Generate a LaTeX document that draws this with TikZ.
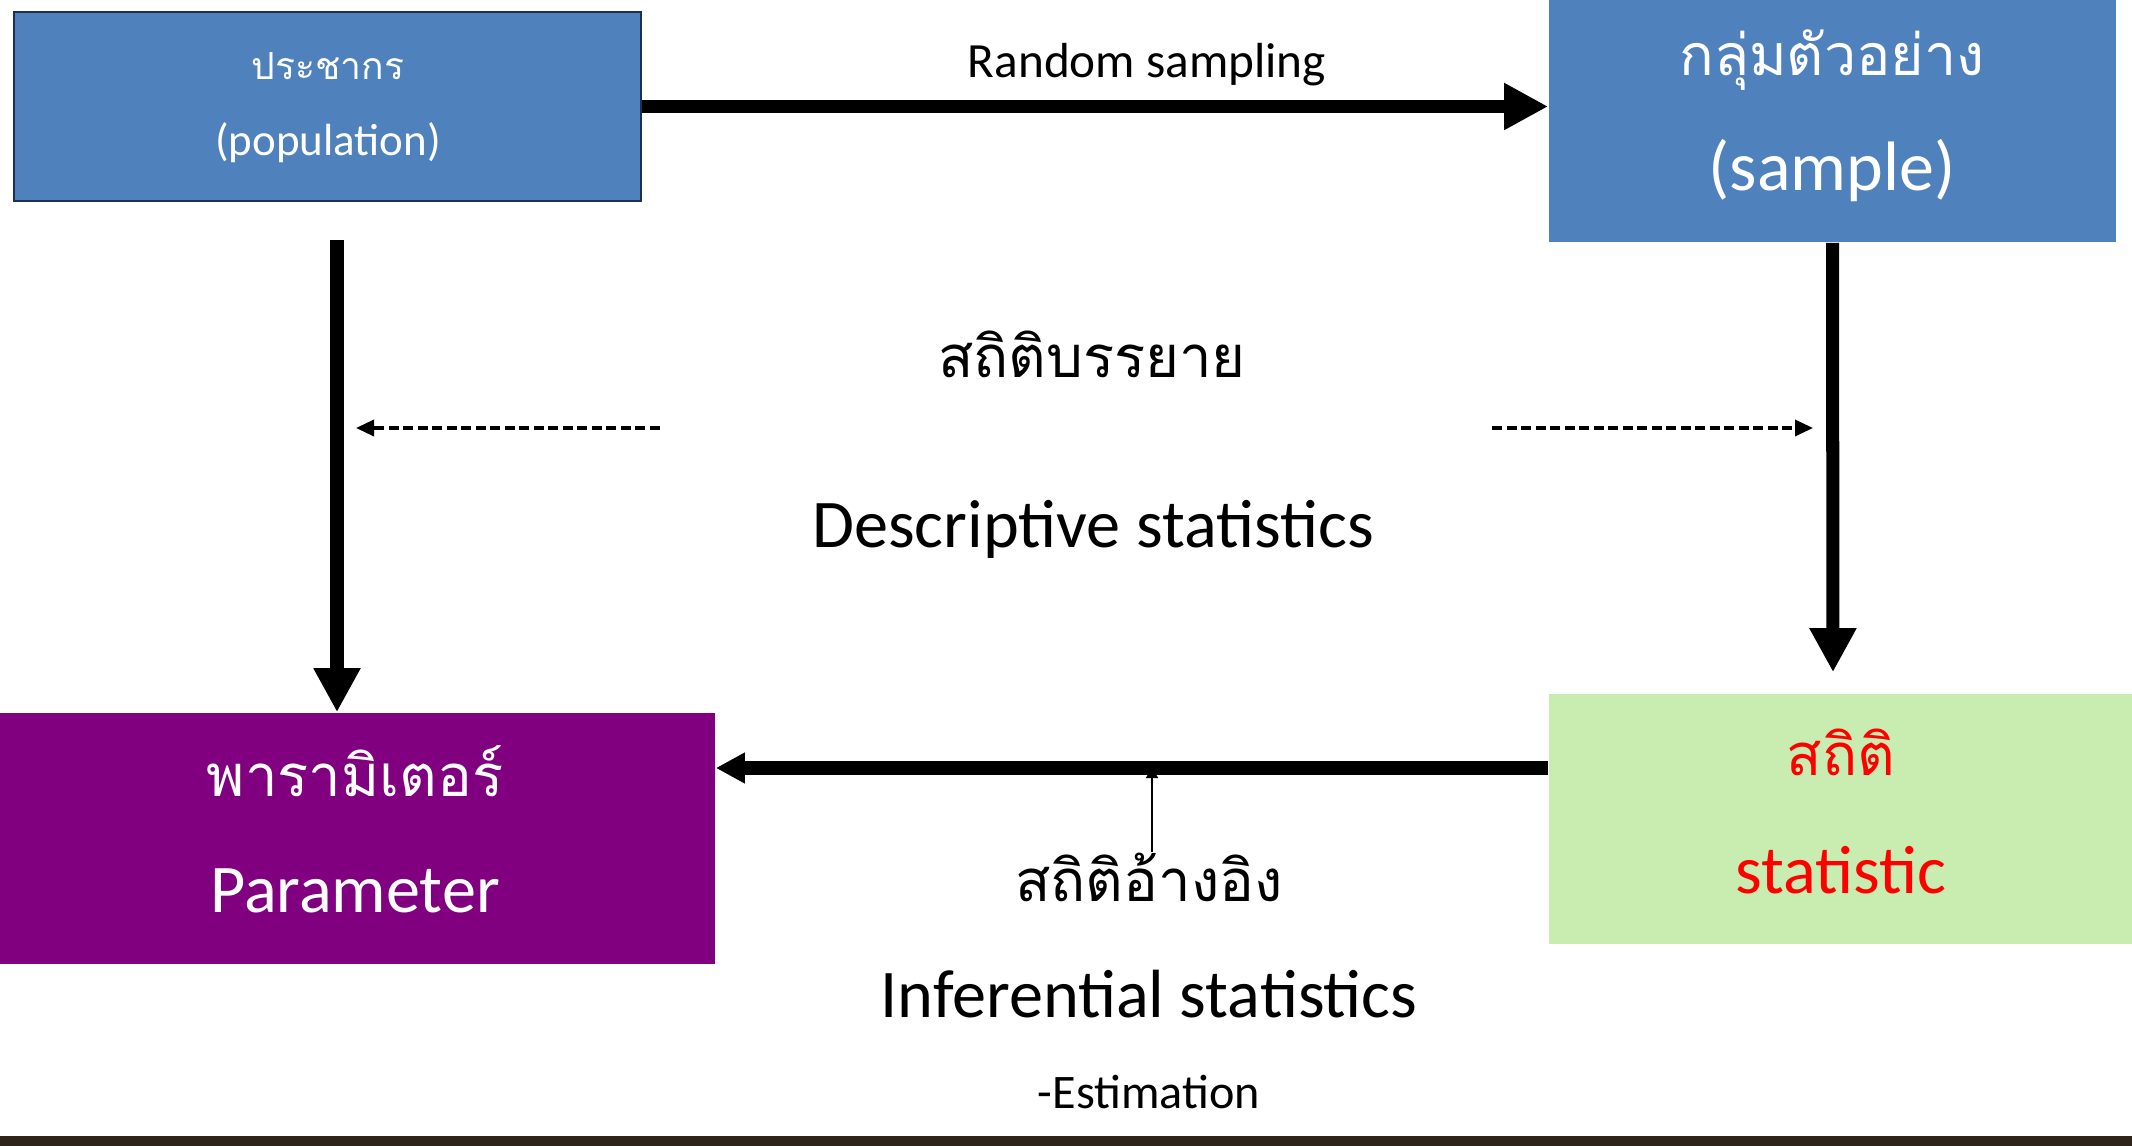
\documentclass[tikz,border=0pt]{standalone}
\usepackage{fontspec}
\setmainfont{Carlito}
\newfontfamily\thaifont[Script=Thai]{Loma}
\usetikzlibrary{arrows.meta,calc,positioning}
\definecolor{popblue}{HTML}{4F81BD}
\definecolor{popedge}{HTML}{1F2F4F}
\definecolor{parpurple}{HTML}{800080}
\definecolor{stagreen}{HTML}{C9EDB0}
\definecolor{barbrown}{HTML}{2E2419}
\tikzset{
  box/.style={rectangle, inner sep=0pt},
  lbl/.style={inner sep=0pt},
  thlbl/.style={inner sep=0pt, font=\thaifont\fontsize{16.5}{20}\selectfont},
  enlbl/.style={inner sep=0pt, font=\fontsize{19.4}{23}\selectfont},
  bigarrow/.style={line width=3.7pt, -{Triangle[length=0.44cm,width=0.44cm]}},
  dasharrow/.style={line width=0.95pt, dash pattern=on 0.1cm off 0.045cm, -{Triangle[length=0.18cm,width=0.16cm]}},
  thinarrow/.style={line width=0.6pt, -{Triangle[length=0.1cm,width=0.12cm]}}
}
\begin{document}
\begin{tikzpicture}[x=0.01cm,y=-0.01cm]
  \useasboundingbox (0,0) rectangle (2132,1146);
  \node[box, fill=popblue, draw=popedge, line width=0.6pt, minimum width=6.27cm, minimum height=1.89cm] (pop) at (327.5,106.5) {};
  \node[box, fill=popblue, minimum width=5.67cm, minimum height=2.42cm] (sam) at (1832.5,121) {};
  \node[box, fill=parpurple, minimum width=7.15cm, minimum height=2.51cm] (par) at (357.5,838.5) {};
  \node[box, fill=stagreen, minimum width=5.83cm, minimum height=2.5cm] (sta) at (1840.5,819) {};
  \node[lbl, text=white, font=\thaifont\fontsize{10.6}{13}\selectfont] (popth) at (328,66) {ประชากร};
  \node[lbl, text=white, font=\fontsize{12.8}{15}\selectfont] (popen) at (328,143) {(population)};
  \node[lbl, text=white, font=\thaifont\fontsize{16.3}{20}\selectfont] (samth) at (1832,60) {กลุ่มตัวอย่าง};
  \node[lbl, text=white, font=\fontsize{19.9}{24}\selectfont] (samen) at (1832,171) {(sample)};
  \node[thlbl, text=white] (parth) at (355,771) {พารามิเตอร์};
  \node[enlbl, text=white] (paren) at (355,891) {Parameter};
  \node[thlbl, text=red] (stath) at (1841,752) {สถิติ};
  \node[enlbl, text=red] (staen) at (1841,870) {statistic};
  \node[lbl, font=\fontsize{14}{17}\selectfont] (rs) at (1147,65) {Random sampling};
  \node[thlbl] (desth) at (1092,354) {สถิติบรรยาย};
  \node[enlbl] (desen) at (1093,529) {Descriptive statistics};
  \node[thlbl] (infth) at (1149,877) {สถิติอ้างอิง};
  \node[enlbl] (infen) at (1149,994) {Inferential statistics};
  \node[lbl, font=\fontsize{13.7}{16}\selectfont] (est) at (1149,1092) {-Estimation};
  \coordinate (inf) at (1152,768);
  \coordinate (dl) at (660,428);
  \coordinate (dlend) at (356,428);
  \coordinate (dr) at (1492,428);
  \coordinate (drend) at (1813,428);
  \draw[bigarrow] (pop.east) -- (pop.east -| sam.west);
  \draw[bigarrow] ($(pop.south)+(9.5,38)$) -- ($(par.north)+(-20.5,0)$);
  \draw[bigarrow] (sam.south) -- ($(sta.north)+(-7.5,-21)$);
  \draw[line width=3.7pt, -{Triangle[length=0.29cm,width=0.29cm]}] (sta.west |- inf) -- (par.east |- inf);
  \draw[thinarrow] (infth.north -| inf) -- (inf);
  \draw[dasharrow] (dl) -- (dlend);
  \draw[dasharrow] (dr) -- (drend);
  \fill[barbrown] (0,1136) rectangle (2132,1146);
\end{tikzpicture}
\end{document}
